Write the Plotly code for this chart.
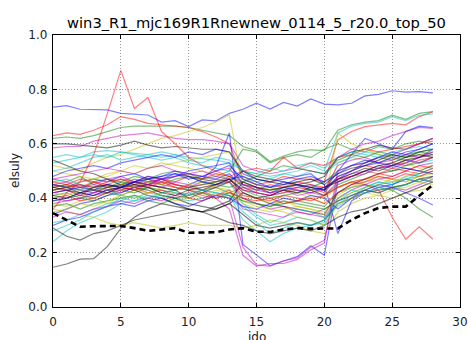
import plotly.graph_objects as go

ido = list(range(29))
tick_x = [0, 5, 10, 15, 20, 25, 30]
tick_y = [0.0, 0.2, 0.4, 0.6, 0.8, 1.0]
title_text = "win3_R1_mjc169R1Rnewnew_0114_5_r20.0_top_50"
x_label = "ido"
y_label = "elsuly"

s00 = [0.735,0.74,0.727,0.727,0.725,0.712,0.708,0.706,0.68,0.685,0.663,0.688,0.684,0.712,0.727,0.749,0.728,0.752,0.739,0.765,0.746,0.743,0.749,0.776,0.782,0.795,0.79,0.792,0.787]
s01 = [0.62,0.625,0.62,0.63,0.645,0.66,0.665,0.665,0.665,0.665,0.66,0.65,0.64,0.63,0.59,0.575,0.535,0.555,0.57,0.578,0.575,0.65,0.67,0.68,0.685,0.705,0.69,0.712,0.718]
s02 = [0.63,0.64,0.635,0.65,0.67,0.70,0.69,0.675,0.67,0.665,0.66,0.645,0.625,0.60,0.47,0.45,0.46,0.48,0.47,0.47,0.46,0.614,0.645,0.663,0.67,0.675,0.67,0.70,0.718]
s03 = [0.55,0.56,0.55,0.57,0.575,0.57,0.565,0.56,0.55,0.56,0.55,0.545,0.54,0.53,0.50,0.49,0.48,0.49,0.50,0.52,0.50,0.64,0.665,0.675,0.68,0.70,0.685,0.705,0.71]
s04 = [0.585,0.59,0.59,0.61,0.62,0.63,0.635,0.64,0.63,0.62,0.615,0.615,0.61,0.60,0.52,0.50,0.49,0.50,0.51,0.50,0.49,0.55,0.58,0.60,0.61,0.63,0.645,0.66,0.657]
s05 = [0.52,0.51,0.50,0.53,0.55,0.56,0.58,0.60,0.62,0.63,0.645,0.66,0.68,0.706,0.44,0.42,0.41,0.40,0.39,0.40,0.41,0.53,0.55,0.54,0.53,0.55,0.54,0.56,0.57]
s06 = [0.60,0.60,0.595,0.59,0.585,0.595,0.61,0.595,0.585,0.59,0.585,0.58,0.58,0.57,0.50,0.48,0.47,0.46,0.45,0.46,0.48,0.55,0.57,0.58,0.595,0.585,0.58,0.60,0.62]
s07 = [0.45,0.44,0.43,0.42,0.44,0.45,0.46,0.45,0.44,0.43,0.45,0.47,0.515,0.64,0.23,0.19,0.152,0.169,0.185,0.225,0.19,0.46,0.48,0.50,0.51,0.52,0.53,0.55,0.58]
s08 = [0.44,0.45,0.43,0.46,0.47,0.46,0.48,0.47,0.49,0.50,0.48,0.47,0.46,0.48,0.46,0.44,0.43,0.44,0.45,0.44,0.46,0.50,0.52,0.53,0.55,0.54,0.56,0.57,0.58]
s09 = [0.36,0.42,0.46,0.56,0.71,0.87,0.73,0.77,0.645,0.60,0.55,0.52,0.50,0.48,0.45,0.44,0.42,0.43,0.45,0.44,0.42,0.48,0.50,0.52,0.51,0.53,0.52,0.54,0.55]
s10 = [0.24,0.28,0.31,0.33,0.35,0.38,0.39,0.40,0.41,0.40,0.42,0.43,0.42,0.41,0.32,0.28,0.24,0.27,0.29,0.30,0.31,0.39,0.42,0.44,0.46,0.45,0.47,0.48,0.50]
s11 = [0.42,0.43,0.41,0.44,0.45,0.44,0.46,0.47,0.45,0.44,0.43,0.42,0.41,0.40,0.22,0.155,0.15,0.17,0.18,0.22,0.245,0.47,0.49,0.50,0.52,0.51,0.53,0.55,0.57]
s12 = [0.36,0.35,0.34,0.33,0.31,0.30,0.31,0.30,0.29,0.30,0.31,0.30,0.30,0.30,0.29,0.30,0.32,0.31,0.30,0.28,0.27,0.35,0.38,0.40,0.41,0.40,0.42,0.43,0.44]
s13 = [0.146,0.158,0.176,0.178,0.222,0.289,0.33,0.36,0.38,0.37,0.36,0.35,0.36,0.38,0.34,0.30,0.29,0.30,0.31,0.30,0.32,0.38,0.40,0.42,0.43,0.44,0.45,0.47,0.48]
s14 = [0.45,0.44,0.46,0.47,0.46,0.48,0.49,0.47,0.48,0.50,0.49,0.48,0.47,0.49,0.44,0.42,0.41,0.43,0.44,0.45,0.43,0.50,0.56,0.62,0.60,0.58,0.645,0.665,0.66]
s15 = [0.47,0.46,0.48,0.45,0.44,0.46,0.45,0.47,0.46,0.48,0.49,0.47,0.48,0.50,0.58,0.57,0.53,0.55,0.56,0.55,0.58,0.60,0.58,0.57,0.59,0.58,0.60,0.61,0.60]
s16 = [0.42,0.43,0.41,0.42,0.44,0.45,0.44,0.46,0.47,0.45,0.44,0.45,0.46,0.47,0.43,0.42,0.41,0.42,0.44,0.43,0.41,0.44,0.46,0.45,0.43,0.33,0.249,0.295,0.249]
s17 = [0.53,0.54,0.55,0.56,0.55,0.57,0.56,0.55,0.54,0.55,0.53,0.52,0.51,0.50,0.48,0.46,0.47,0.49,0.48,0.50,0.49,0.53,0.55,0.57,0.56,0.55,0.54,0.53,0.54]
s18 = [0.38,0.39,0.40,0.42,0.43,0.42,0.44,0.45,0.44,0.46,0.45,0.43,0.40,0.36,0.19,0.15,0.16,0.16,0.175,0.21,0.235,0.50,0.52,0.53,0.55,0.56,0.58,0.60,0.62]
s19 = [0.50,0.49,0.48,0.47,0.49,0.50,0.52,0.51,0.53,0.52,0.51,0.50,0.49,0.47,0.45,0.43,0.44,0.42,0.43,0.41,0.40,0.44,0.46,0.47,0.48,0.47,0.46,0.48,0.49]
s20 = [0.29,0.26,0.246,0.27,0.28,0.30,0.32,0.33,0.34,0.35,0.36,0.35,0.33,0.31,0.30,0.28,0.27,0.28,0.29,0.28,0.30,0.33,0.35,0.36,0.38,0.40,0.42,0.44,0.46]
s21 = [0.48,0.50,0.51,0.52,0.51,0.53,0.54,0.55,0.56,0.55,0.57,0.56,0.58,0.57,0.49,0.47,0.46,0.47,0.48,0.49,0.45,0.27,0.39,0.42,0.44,0.45,0.47,0.46,0.48]
s22 = [0.41,0.42,0.40,0.39,0.41,0.43,0.42,0.44,0.43,0.42,0.41,0.43,0.44,0.42,0.40,0.38,0.37,0.38,0.39,0.38,0.37,0.42,0.44,0.45,0.44,0.43,0.40,0.36,0.33]
s23 = [0.44,0.45,0.44,0.46,0.45,0.47,0.46,0.48,0.47,0.46,0.48,0.47,0.49,0.48,0.50,0.51,0.50,0.55,0.51,0.53,0.52,0.55,0.56,0.58,0.57,0.58,0.59,0.60,0.61]
s24 = [0.46,0.47,0.45,0.44,0.43,0.41,0.40,0.42,0.41,0.40,0.39,0.40,0.42,0.41,0.37,0.33,0.30,0.31,0.33,0.32,0.30,0.38,0.41,0.43,0.45,0.46,0.47,0.49,0.50]
s25 = [0.40,0.39,0.40,0.41,0.42,0.43,0.45,0.46,0.47,0.45,0.44,0.46,0.47,0.46,0.40,0.38,0.36,0.37,0.35,0.34,0.33,0.40,0.43,0.45,0.47,0.48,0.50,0.52,0.53]
s26 = [0.43,0.44,0.46,0.47,0.48,0.50,0.49,0.51,0.52,0.53,0.54,0.55,0.56,0.57,0.48,0.45,0.44,0.43,0.42,0.40,0.38,0.64,0.60,0.58,0.56,0.55,0.53,0.51,0.52]
s27 = [0.54,0.52,0.50,0.49,0.47,0.45,0.44,0.43,0.41,0.40,0.38,0.37,0.36,0.38,0.42,0.40,0.38,0.37,0.36,0.35,0.34,0.42,0.45,0.47,0.49,0.50,0.51,0.50,0.52]
s28 = [0.34,0.36,0.38,0.39,0.41,0.42,0.44,0.45,0.47,0.48,0.50,0.51,0.52,0.53,0.45,0.43,0.42,0.44,0.43,0.42,0.44,0.47,0.50,0.53,0.55,0.57,0.56,0.58,0.60]
s29 = [0.39,0.40,0.41,0.40,0.42,0.41,0.43,0.44,0.42,0.43,0.44,0.45,0.46,0.47,0.43,0.41,0.40,0.41,0.42,0.43,0.41,0.45,0.47,0.49,0.51,0.50,0.52,0.53,0.55]
s30 = [0.46,0.45,0.47,0.46,0.44,0.43,0.44,0.42,0.43,0.41,0.40,0.39,0.41,0.42,0.44,0.43,0.45,0.44,0.46,0.45,0.44,0.47,0.48,0.50,0.49,0.51,0.50,0.52,0.51]
s31 = [0.31,0.32,0.34,0.36,0.38,0.39,0.41,0.40,0.42,0.43,0.44,0.43,0.45,0.46,0.38,0.34,0.31,0.33,0.36,0.35,0.33,0.37,0.40,0.44,0.46,0.45,0.48,0.49,0.51]
s32 = [0.47,0.48,0.49,0.50,0.51,0.50,0.49,0.51,0.52,0.50,0.49,0.48,0.50,0.51,0.45,0.44,0.42,0.43,0.41,0.42,0.43,0.52,0.54,0.55,0.53,0.54,0.56,0.55,0.57]
s33 = [0.38,0.37,0.39,0.40,0.38,0.41,0.43,0.42,0.44,0.43,0.45,0.46,0.44,0.43,0.41,0.40,0.38,0.39,0.37,0.36,0.35,0.41,0.44,0.46,0.47,0.46,0.48,0.50,0.49]
s34 = [0.43,0.44,0.42,0.41,0.43,0.44,0.46,0.45,0.44,0.43,0.40,0.42,0.44,0.46,0.50,0.47,0.46,0.45,0.46,0.47,0.45,0.49,0.51,0.52,0.54,0.56,0.55,0.57,0.58]
s35 = [0.30,0.32,0.33,0.35,0.37,0.38,0.37,0.39,0.40,0.38,0.37,0.39,0.41,0.40,0.37,0.36,0.38,0.40,0.39,0.41,0.40,0.36,0.40,0.43,0.45,0.44,0.42,0.40,0.375]
s36 = [0.45,0.44,0.45,0.43,0.44,0.45,0.47,0.46,0.45,0.47,0.48,0.46,0.45,0.44,0.46,0.48,0.50,0.52,0.51,0.50,0.49,0.54,0.56,0.55,0.57,0.56,0.55,0.57,0.56]
s37 = [0.43,0.44,0.45,0.44,0.46,0.47,0.45,0.44,0.46,0.45,0.44,0.43,0.45,0.46,0.41,0.40,0.39,0.41,0.40,0.39,0.41,0.44,0.46,0.47,0.49,0.48,0.50,0.49,0.51]
s38 = [0.50,0.51,0.53,0.55,0.56,0.54,0.55,0.56,0.57,0.56,0.54,0.53,0.55,0.54,0.50,0.49,0.51,0.50,0.52,0.53,0.51,0.55,0.57,0.56,0.55,0.57,0.58,0.59,0.58]
s39 = [0.33,0.35,0.34,0.36,0.37,0.39,0.38,0.40,0.39,0.41,0.42,0.40,0.41,0.43,0.36,0.35,0.34,0.33,0.35,0.34,0.36,0.39,0.41,0.43,0.42,0.44,0.43,0.45,0.47]
s40 = [0.42,0.41,0.43,0.44,0.43,0.45,0.44,0.46,0.45,0.44,0.43,0.42,0.41,0.43,0.39,0.37,0.36,0.35,0.33,0.32,0.30,0.38,0.40,0.42,0.41,0.43,0.44,0.46,0.45]
s41 = [0.44,0.43,0.42,0.44,0.45,0.44,0.43,0.41,0.40,0.38,0.36,0.35,0.37,0.39,0.46,0.44,0.43,0.44,0.45,0.43,0.44,0.46,0.48,0.50,0.52,0.53,0.55,0.56,0.55]
s42 = [0.39,0.40,0.42,0.41,0.43,0.44,0.46,0.48,0.47,0.49,0.48,0.46,0.45,0.47,0.48,0.46,0.44,0.45,0.47,0.48,0.46,0.49,0.52,0.54,0.53,0.55,0.57,0.58,0.60]
s43 = [0.37,0.38,0.36,0.38,0.39,0.40,0.41,0.39,0.38,0.40,0.41,0.42,0.40,0.41,0.39,0.38,0.37,0.39,0.38,0.37,0.36,0.39,0.41,0.43,0.42,0.44,0.45,0.47,0.46]
s44 = [0.40,0.41,0.39,0.40,0.42,0.44,0.43,0.45,0.46,0.44,0.43,0.41,0.40,0.42,0.40,0.39,0.40,0.38,0.39,0.40,0.38,0.42,0.45,0.46,0.48,0.47,0.49,0.48,0.50]
s45 = [0.28,0.30,0.32,0.35,0.37,0.40,0.39,0.41,0.40,0.42,0.41,0.43,0.42,0.41,0.35,0.31,0.27,0.29,0.31,0.30,0.32,0.40,0.43,0.42,0.44,0.43,0.45,0.47,0.46]
s46 = [0.45,0.46,0.44,0.45,0.47,0.48,0.46,0.45,0.47,0.48,0.49,0.50,0.48,0.47,0.43,0.42,0.41,0.42,0.43,0.42,0.41,0.46,0.48,0.49,0.51,0.52,0.54,0.53,0.55]
s47 = [0.35,0.36,0.38,0.37,0.39,0.41,0.40,0.42,0.41,0.39,0.40,0.41,0.43,0.42,0.38,0.36,0.35,0.36,0.37,0.36,0.34,0.40,0.42,0.44,0.45,0.47,0.46,0.48,0.47]
s48 = [0.41,0.40,0.42,0.43,0.42,0.44,0.45,0.44,0.42,0.41,0.43,0.44,0.45,0.47,0.42,0.40,0.41,0.43,0.42,0.44,0.43,0.47,0.49,0.51,0.50,0.52,0.54,0.55,0.56]
s49 = [0.42,0.43,0.44,0.43,0.45,0.44,0.46,0.47,0.48,0.49,0.47,0.48,0.50,0.52,0.47,0.45,0.44,0.46,0.45,0.44,0.43,0.48,0.50,0.52,0.53,0.52,0.51,0.50,0.49]

baseline = [0.345,0.32,0.295,0.297,0.298,0.298,0.29,0.28,0.285,0.29,0.273,0.275,0.275,0.285,0.29,0.277,0.276,0.285,0.29,0.288,0.289,0.289,0.32,0.345,0.364,0.369,0.369,0.41,0.449]

series = [s00,s01,s02,s03,s04,s05,s06,s07,s08,s09,s10,s11,s12,s13,s14,s15,s16,s17,s18,s19,
          s20,s21,s22,s23,s24,s25,s26,s27,s28,s29,s30,s31,s32,s33,s34,s35,s36,s37,s38,s39,
          s40,s41,s42,s43,s44,s45,s46,s47,s48,s49]

cycle = ["rgba(0,0,255,0.5)", "rgba(0,128,0,0.5)", "rgba(255,0,0,0.5)", "rgba(0,191,191,0.5)",
         "rgba(191,0,191,0.5)", "rgba(191,191,0,0.5)", "rgba(0,0,0,0.5)"]

fig = go.Figure()
for i, s in enumerate(series):
    fig.add_trace(go.Scatter(x=ido, y=s, mode="lines",
                             line=dict(color=cycle[i % 7], width=1.2),
                             showlegend=False, hoverinfo="skip"))
fig.add_trace(go.Scatter(x=ido, y=baseline, mode="lines",
                         line=dict(color="black", width=2.6, dash="6px,4px"),
                         showlegend=False, hoverinfo="skip"))

tick_font = dict(family="DejaVu Sans", size=12, color="#222")
axis_common = dict(showline=True, linecolor="black", linewidth=1.3, mirror="ticks",
                   ticks="inside", ticklen=4, tickcolor="black",
                   showgrid=True, gridcolor="#999", gridwidth=1, griddash="1px,2px",
                   zeroline=False, tickfont=tick_font, automargin=False)

fig.update_layout(
    width=468, height=340,
    margin=dict(l=53, r=8, t=35, b=33),
    paper_bgcolor="white", plot_bgcolor="white",
    title=dict(text=title_text, x=0.548, xanchor="center", y=1 - 23 / 340, yanchor="middle",
               yref="container", font=dict(family="DejaVu Sans", size=14.7, color="black")),
    xaxis=dict(range=[0, 30], tickvals=tick_x, ticklabelstandoff=3, **axis_common),
    yaxis=dict(range=[0, 1.0], tickvals=tick_y, tickformat=".1f", ticklabelstandoff=2, **axis_common),
    annotations=[
        dict(text=x_label, xref="paper", yref="paper", x=0.5, y=0, yshift=-30,
             xanchor="center", yanchor="middle", showarrow=False, font=tick_font),
        dict(text=y_label, xref="paper", yref="paper", x=0, y=0.5, xshift=-38,
             xanchor="center", yanchor="middle", textangle=-90, showarrow=False, font=tick_font),
    ],
)

fig.write_html("out.html")
